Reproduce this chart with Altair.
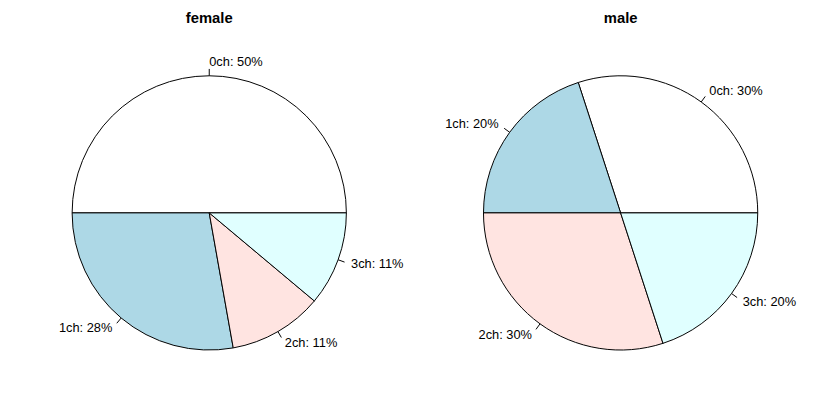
import math
import altair as alt
import pandas as pd

# ---- data ----
groups = ["female", "male"]
children = ["0ch", "1ch", "2ch", "3ch"]
female_pct = [50.0, 27.8, 11.1, 11.1]
male_pct = [30.0, 20.0, 30.0, 20.0]
slice_colors = ["#FFFFFF", "#ADD8E6", "#FFE4E1", "#E0FFFF"]

R = 139  # pie radius in px (1 scale unit = 1 px)

rows = []
for g, vals in zip(groups, [female_pct, male_pct]):
    total = sum(vals)
    cum = 0.0
    for i, (c, v) in enumerate(zip(children, vals)):
        start = cum / total
        cum += v
        end = cum / total
        mid = 2 * math.pi * (start + end) / 2
        cx, sy = math.cos(mid), math.sin(mid)
        rows.append(dict(
            sex=g, child=c, pct=v, start=start, end=end, order=i,
            tx1=R * cx, ty1=R * sy,
            tx2=1.05 * R * cx, ty2=1.05 * R * sy,
            lx=1.1 * R * cx, ly=1.1 * R * sy,
            side="left" if cx > 0 else "right",
            label=f"{c}: {round(v)}%",
        ))
df = pd.DataFrame(rows)

W, H = 398, 396
xs = alt.Scale(domain=[-204, 194], nice=False, zero=False)
ys = alt.Scale(domain=[-191, 205], nice=False, zero=False)
FONT = "Liberation Sans"

arcs = alt.Chart().mark_arc(radius=R, stroke="black", strokeWidth=1).encode(
    theta=alt.Theta("start:Q", stack=None,
                    scale=alt.Scale(domain=[0, 1], range=[2.5 * math.pi, 0.5 * math.pi])),
    theta2="end:Q",
    color=alt.Color("child:N", scale=alt.Scale(domain=children, range=slice_colors), legend=None),
    x=alt.XDatum(0, scale=xs, axis=None),
    y=alt.YDatum(0, scale=ys, axis=None),
)

ticks = alt.Chart().mark_rule(color="black", strokeWidth=1).encode(
    x=alt.X("tx1:Q", scale=xs, axis=None),
    y=alt.Y("ty1:Q", scale=ys, axis=None),
    x2="tx2:Q",
    y2="ty2:Q",
)

def labels(side, align):
    return alt.Chart().transform_filter(alt.datum.side == side).mark_text(
        align=align, baseline="middle", font=FONT, fontSize=13, color="black"
    ).encode(
        x=alt.X("lx:Q", scale=xs, axis=None),
        y=alt.Y("ly:Q", scale=ys, axis=None),
        text="label:N",
    )

titles = alt.Chart().transform_filter(alt.datum.order == 0).mark_text(
    align="center", baseline="alphabetic", font=FONT, fontSize=15, fontWeight="bold", color="black"
).encode(
    x=alt.XDatum(0, scale=xs, axis=None),
    y=alt.YDatum(192, scale=ys, axis=None),
    text="sex:N",
)

layered = alt.layer(arcs, ticks, labels("left", "left"), labels("right", "right"), titles).properties(
    width=W, height=H
)

chart = layered.facet(
    data=df,
    column=alt.Column("sex:N", sort=groups, header=alt.Header(labels=False, title=None)),
    spacing=16,
).properties(padding=0).configure(
    background="white",
    view=alt.ViewConfig(strokeWidth=0, stroke="transparent"),
)

chart.save("out.html", embed_options={"renderer": "svg", "actions": False})
